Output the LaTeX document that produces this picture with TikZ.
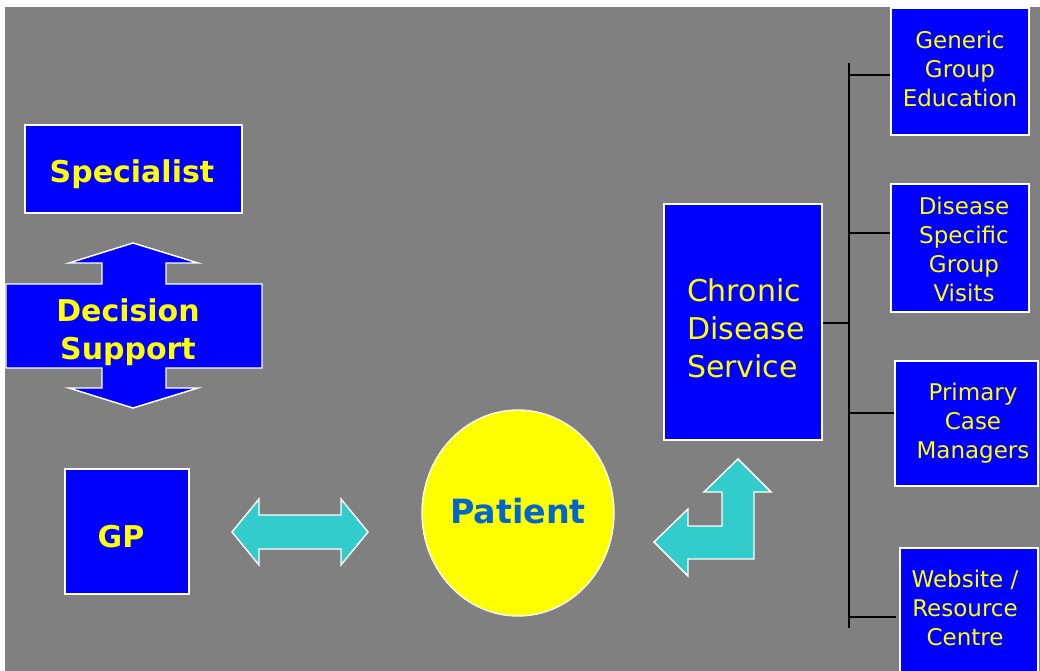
\documentclass[tikz,border=0pt]{standalone}
\usepackage{fontspec}
\setmainfont{DejaVu Sans}
\usetikzlibrary{shapes.geometric}
\definecolor{bg}{HTML}{808080}
\definecolor{bblue}{HTML}{0000FF}
\definecolor{yel}{HTML}{FFFF00}
\definecolor{teal2}{HTML}{33CCCC}
\definecolor{ptxt}{HTML}{0066CC}
\begin{document}
\begin{tikzpicture}[x=0.75pt,y=-0.75pt,
  bluebox/.style={rectangle, fill=bblue, draw=white, line width=1.1pt, inner sep=0pt},
  ytext/.style={text=yel, align=center, inner sep=0pt},
  boldtxt/.style={font=\bfseries\fontsize{22.5}{28.5}\selectfont},
  bigtxt/.style={font=\fontsize{22.5}{28.5}\selectfont},
  smalltxt/.style={font=\fontsize{17.25}{21.75}\selectfont},
  fatarrow/.style={draw=white, line width=1.1pt, line join=miter},
  busline/.style={draw=black, line width=1.5pt}]
\useasboundingbox (0,0) rectangle (1040,671);
\fill[white] (0,0) rectangle (1040,671);
\fill[bg] (5,7) rectangle (1040,671);

% Specialist and GP
\node[bluebox, minimum width=162.75pt, minimum height=66pt] (spec) at (133.5,169) {};
\node[ytext, boldtxt] (spectxt) at (132,174) {Specialist};
\node[bluebox, minimum width=93pt, minimum height=93.75pt] (gp) at (127,531.5) {};
\node[ytext, boldtxt] (gptxt) at (121,536.5) {GP};

% Decision support up-down arrow
\path[fatarrow, fill=bblue] (133,243) -- (198,263) -- (166,263) -- (166,284) -- (262,284) -- (262,368) -- (166,368) -- (166,388) -- (198,388) -- (133,408) -- (69,388) -- (102,388) -- (102,368) -- (6,368) -- (6,284) -- (102,284) -- (102,263) -- (69,263) -- cycle;
\node[ytext, boldtxt] (ds) at (128,332) {Decision\\Support};

% GP <-> Patient arrow
\path[fatarrow, fill=teal2] (232,532) -- (259,499) -- (259,515) -- (341,515) -- (341,499) -- (368,532) -- (341,565) -- (341,549) -- (259,549) -- (259,565) -- cycle;

% Patient
\node[ellipse, fill=yel, draw=white, line width=1pt, minimum width=144pt, minimum height=154.5pt, inner sep=0pt] (pat) at (518,513) {};
\node[text=ptxt, font=\bfseries\fontsize{25}{30}\selectfont, inner sep=0pt] (pattxt) at (518,511) {Patient};

% Patient <-> Chronic L arrow
\path[fatarrow, fill=teal2] (738,459) -- (771,492) -- (754,492) -- (754,559) -- (688,559) -- (688,576) -- (654,542) -- (688,509) -- (688,526) -- (722,526) -- (722,492) -- (704,492) -- cycle;

% Chronic Disease Service
\node[bluebox, minimum width=118.5pt, minimum height=177pt] (cds) at (743,322) {};
\node[ytext, bigtxt, align=left] (cdstxt) at (746,328) {Chronic\\Disease\\Service};

% Bus
\coordinate (bustop) at (849,63);
\coordinate (busbot) at (849,628);
\coordinate (busmid) at (849,323);
\coordinate (b1) at (849,75);
\coordinate (b2) at (849,233);
\coordinate (b3) at (849,413);
\coordinate (b4) at (849,617);
\coordinate (t4) at (896,617);
\draw[busline] (bustop) -- (busbot);
\draw[busline] (cds.east |- busmid) -- (busmid);

% Right boxes
\node[bluebox, minimum width=103.5pt, minimum height=95.25pt] (gge) at (960,71.5) {};
\node[ytext, smalltxt] (ggetxt) at (960,68.5) {Generic\\Group\\Education};
\node[bluebox, minimum width=103.5pt, minimum height=96pt] (dsgv) at (960,248) {};
\node[ytext, smalltxt] (dsgvtxt) at (964,249.5) {Disease\\Specific\\Group\\Visits};
\node[bluebox, minimum width=107.25pt, minimum height=93.75pt] (pcm) at (966.5,423.5) {};
\node[ytext, smalltxt] (pcmtxt) at (973,423.5) {Primary\\Case\\Managers};
\node[bluebox, minimum width=103.5pt, minimum height=99pt] (web) at (969,614) {};
\node[ytext, smalltxt] (webtxt) at (965,608) {Website /\\Resource\\Centre};

\draw[busline] (b1) -- (b1 -| gge.west);
\draw[busline] (b2) -- (b2 -| dsgv.west);
\draw[busline] (b3) -- (b3 -| pcm.west);
\draw[busline] (b4) -- (t4);
\end{tikzpicture}
\end{document}
